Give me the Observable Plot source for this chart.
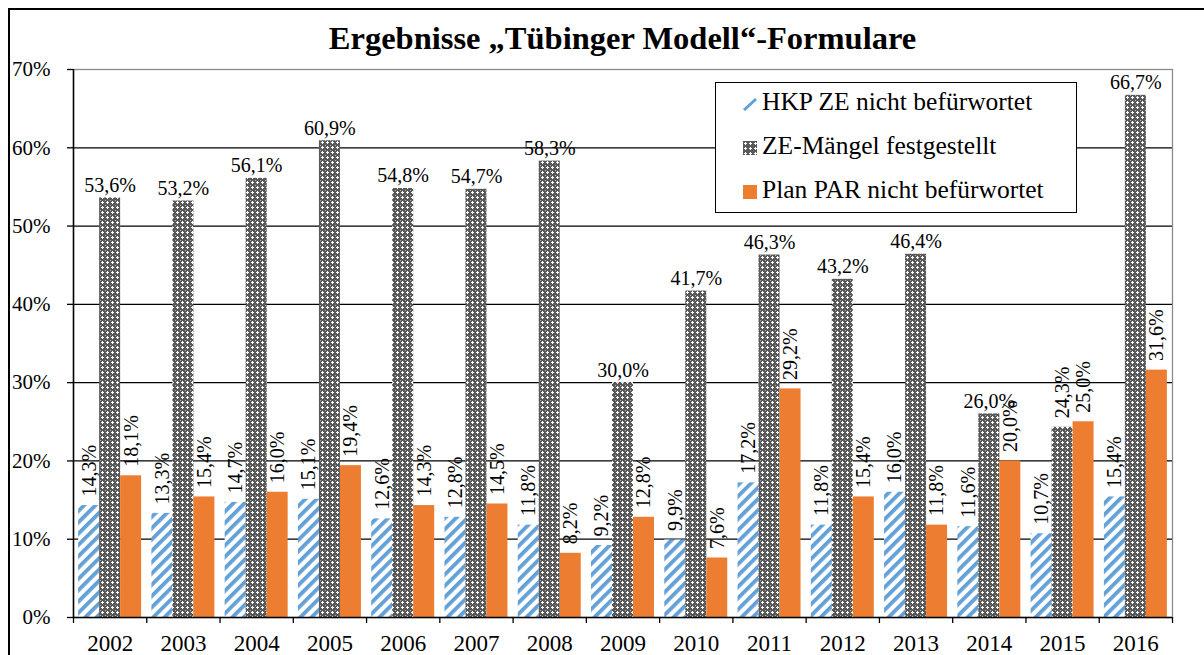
<!DOCTYPE html>
<html>
<head>
<meta charset="utf-8">
<script src="https://cdn.jsdelivr.net/npm/d3@7"></script>
<script src="https://cdn.jsdelivr.net/npm/@observablehq/plot@0.6"></script>
<style>
  html, body { margin: 0; padding: 0; overflow: hidden; background: #fff; }
  #wrap { position: relative; width: 1204px; height: 655px; overflow: hidden; font-family: "Liberation Serif", serif; }
  #title { box-sizing: border-box; height: 55px; padding-top: 22px; padding-left: 73px; padding-right: 32px; text-align: center; font-weight: bold; font-size: 32.5px; line-height: 32px; white-space: nowrap; font-family: "Liberation Serif", serif; }
  #frame { position: absolute; left: 8px; top: 8px; width: 1300px; height: 800px; border: 2px solid #000; pointer-events: none; }
  #legend { position: absolute; left: 715px; top: 82px; width: 362px; height: 131px; border: 1.5px solid #000; background: #fff; box-sizing: border-box; font-size: 25.5px; font-family: "Liberation Serif", serif; }
  #legend .row { position: absolute; left: 27px; line-height: 44px; white-space: nowrap; }
  #legend svg { vertical-align: -1px; margin-right: 5px; }
  #chart svg text { font-family: "Liberation Serif", serif; }
</style>
</head>
<body>
<div id="wrap">
  <div id="title"></div>
  <div id="chart"></div>
  <div id="legend"></div>
  <div id="frame"></div>
</div>
<script>
const titleText = "Ergebnisse „Tübinger Modell“-Formulare";
const years = [2002, 2003, 2004, 2005, 2006, 2007, 2008, 2009, 2010, 2011, 2012, 2013, 2014, 2015, 2016];
const hkp = [14.3, 13.3, 14.7, 15.1, 12.6, 12.8, 11.8, 9.2, 9.9, 17.2, 11.8, 16.0, 11.6, 10.7, 15.4];
const ze  = [53.6, 53.2, 56.1, 60.9, 54.8, 54.7, 58.3, 30.0, 41.7, 46.3, 43.2, 46.4, 26.0, 24.3, 66.7];
const par = [18.1, 15.4, 16.0, 19.4, 14.3, 14.5, 8.2, 12.8, 7.6, 29.2, 15.4, 11.8, 20.0, 25.0, 31.6];
const seriesNames = ["HKP ZE nicht befürwortet", "ZE-Mängel festgestellt", "Plan PAR nicht befürwortet"];
const yTicks = [0, 10, 20, 30, 40, 50, 60, 70];

const fills = ["url(#pat-hkp)", "url(#pat-ze)", "#ED7D31"];
const barW = 21 / 73.27;             // bar width as a fraction of a year band
const pad = (1 - 3 * barW) / 2;

const data = years.flatMap((year, i) => [hkp, ze, par].map((arr, k) => {
  const x1 = year - 0.5 + pad + k * barW;
  return {year, k, series: seriesNames[k], value: arr[i], x1, x2: x1 + barW, cx: x1 + barW / 2};
}));
const fmt = d => d.value.toFixed(1).replace(".", ",") + "%";
const bounds = years.map(y => y - 0.5).concat([years[years.length - 1] + 0.5]);

document.getElementById("title").textContent = titleText;

const font = "Liberation Serif";
const horiz = data.filter(d => d.k === 1 && d.value >= 25);
const vert = data.filter(d => !(d.k === 1 && d.value >= 25));

const chart = Plot.plot({
  width: 1204,
  height: 600,
  marginTop: 14,
  marginBottom: 38,
  marginLeft: 73,
  marginRight: 32,
  style: "font-family: 'Liberation Serif', serif; font-size: 20px; color: #000; background: transparent; overflow: visible;",
  x: {type: "linear", domain: [bounds[0], bounds[bounds.length - 1]], axis: null},
  y: {domain: [0, 70], axis: null},
  marks: [
    Plot.gridY({ticks: yTicks.filter(t => t > 0 && t < 70), stroke: "#000", strokeOpacity: 1, strokeWidth: 1.3}),
    Plot.frame({stroke: "#8a8a8a", strokeWidth: 1.3}),
    ...[0, 1, 2].map(k => Plot.rectY(data.filter(d => d.k === k), {x1: "x1", x2: "x2", y: "value", fill: fills[k]})),
    Plot.ruleX([bounds[0]], {stroke: "#000", strokeWidth: 1.5}),
    Plot.ruleY([0], {stroke: "#000", strokeWidth: 1.5}),
    Plot.text(horiz, {x: "cx", y: "value", text: fmt, lineAnchor: "bottom", dy: -6, fontSize: 20, fontFamily: font, fill: "#000"}),
    Plot.text(vert, {x: "cx", y: "value", text: fmt, rotate: -90, textAnchor: "start", dy: -9, fontSize: 20, fontFamily: font, fill: "#000"}),
    Plot.axisY({ticks: yTicks, label: null, tickSize: 6, tickPadding: 17, tickFormat: d => d + "%", fontSize: 21, fontFamily: font, stroke: "#000", strokeWidth: 1.3}),
    Plot.axisX({ticks: bounds, label: null, tickSize: 6, tickFormat: () => "", stroke: "#000", strokeWidth: 1.3}),
    Plot.axisX({ticks: years, label: null, tickSize: 0, tickPadding: 17, tickFormat: d => String(d), fontSize: 23, fontFamily: font})
  ]
});

// patterns
const defs = d3.select(chart).insert("defs", ":first-child");
const pH = defs.append("pattern").attr("id", "pat-hkp").attr("patternUnits", "userSpaceOnUse")
  .attr("width", 8).attr("height", 8).attr("patternTransform", "rotate(45)");
pH.append("rect").attr("width", 8).attr("height", 8).attr("fill", "#fff");
pH.append("rect").attr("width", 3.8).attr("height", 8).attr("fill", "#62A0D8");
const pZ = defs.append("pattern").attr("id", "pat-ze").attr("patternUnits", "userSpaceOnUse")
  .attr("width", 5).attr("height", 5);
pZ.append("rect").attr("width", 5).attr("height", 5).attr("fill", "#595959");
pZ.append("rect").attr("x", 0).attr("y", 0).attr("width", 1).attr("height", 1).attr("fill", "#b0b0b0");
pZ.append("rect").attr("x", 1).attr("y", 2).attr("width", 3).attr("height", 1).attr("fill", "#fff");
pZ.append("rect").attr("x", 2).attr("y", 1).attr("width", 1).attr("height", 3).attr("fill", "#fff");
document.getElementById("chart").appendChild(chart);

// legend
const swatches = [
  '<svg width="14" height="14"><defs><pattern id="lg-ze" patternUnits="userSpaceOnUse" width="5" height="5"><rect width="5" height="5" fill="#595959"/><rect x="1" y="2" width="3" height="1" fill="#fff"/><rect x="2" y="1" width="1" height="3" fill="#fff"/></pattern></defs><line x1="1" y1="13" x2="13" y2="2" stroke="#62A0D8" stroke-width="3"/></svg>',
  '<svg width="14" height="14"><rect width="14" height="14" fill="url(#lg-ze)"/></svg>',
  '<svg width="14" height="14"><rect width="14" height="14" fill="#ED7D31"/></svg>'
];
const legend = document.getElementById("legend");
seriesNames.forEach((name, k) => {
  const row = document.createElement("div");
  row.className = "row";
  row.style.top = (-3 + 44 * k) + "px";
  row.innerHTML = swatches[k];
  row.appendChild(document.createTextNode(name));
  legend.appendChild(row);
});
</script>
</body>
</html>
